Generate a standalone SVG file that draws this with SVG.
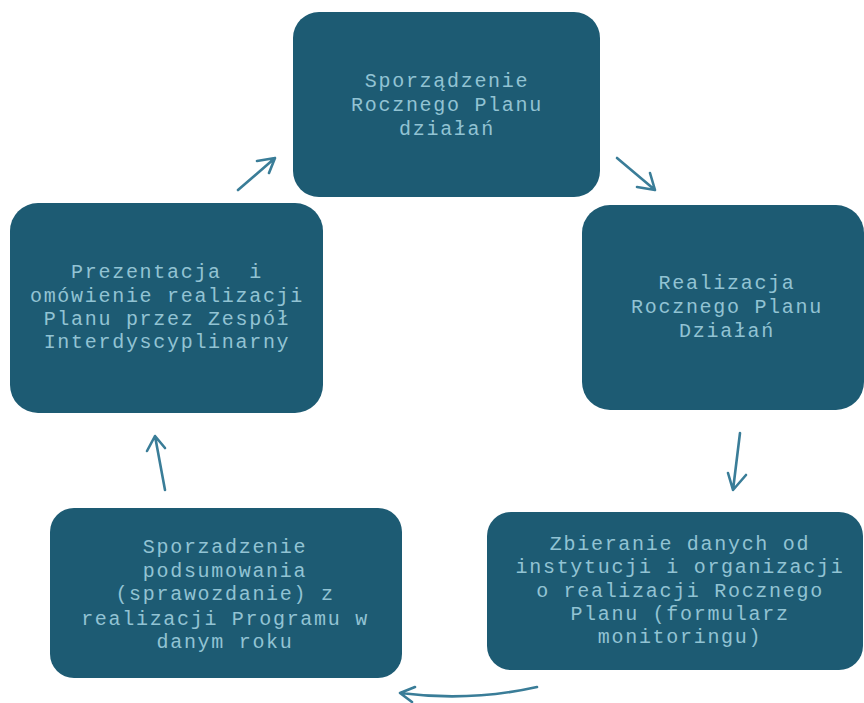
<svg xmlns="http://www.w3.org/2000/svg" width="864" height="703" viewBox="0 0 864 703">
<defs>
<style>
.box{fill:#1d5b73;}
.t{font-family:"Liberation Mono","Courier New",monospace;font-size:20px;letter-spacing:1.7px;fill:#92c3d3;text-anchor:middle;}
.c{fill:none;stroke:#3a7d98;stroke-width:2.6;stroke-linecap:round;stroke-linejoin:round;}
</style>
</defs>
<rect width="864" height="703" fill="#ffffff"/>
<g id="node-plan">
<rect class="box" x="293" y="12" width="307" height="185" rx="26"/>
<text class="t"><tspan x="447" y="87">Sporządzenie</tspan><tspan x="447" y="111">Rocznego Planu</tspan><tspan x="447" y="135">działań</tspan></text>
</g>
<g id="node-realizacja">
<rect class="box" x="582" y="205" width="282" height="205" rx="28"/>
<text class="t"><tspan x="727" y="289">Realizacja</tspan><tspan x="727" y="313">Rocznego Planu</tspan><tspan x="727" y="337">Działań</tspan></text>
</g>
<g id="node-zbieranie">
<rect class="box" x="487" y="512" width="376" height="158" rx="24"/>
<text class="t"><tspan x="680" y="550">Zbieranie danych od</tspan><tspan x="680" y="573">instytucji i organizacji</tspan><tspan x="680" y="597">o realizacji Rocznego</tspan><tspan x="680" y="620">Planu (formularz</tspan><tspan x="680" y="643">monitoringu)</tspan></text>
</g>
<g id="node-sprawozdanie">
<rect class="box" x="50" y="508" width="352" height="170" rx="24"/>
<text class="t"><tspan x="225" y="553">Sporzadzenie</tspan><tspan x="225" y="577">podsumowania</tspan><tspan x="225" y="600">(sprawozdanie) z</tspan><tspan x="225" y="625">realizacji Programu w</tspan><tspan x="225" y="648">danym roku</tspan></text>
</g>
<g id="node-prezentacja">
<rect class="box" x="10" y="203" width="313" height="210" rx="28"/>
<text class="t" xml:space="preserve"><tspan x="167" y="278">Prezentacja  i</tspan><tspan x="167" y="302">omówienie realizacji</tspan><tspan x="167" y="325">Planu przez Zespół</tspan><tspan x="167" y="348">Interdyscyplinarny</tspan></text>
</g>
<g id="connectors">
<path class="c" d="M617 158 L655 190 M637 187 L655 190 L650 173"/>
<path class="c" d="M740 433 L733 490 M728 473 L733 490 L746 475"/>
<path class="c" d="M537 687 Q470 702 400 693 M415 687 L400 693 L412 702"/>
<path class="c" d="M165 490 L155 436 M147 451 L155 436 L165 448"/>
<path class="c" d="M238 190 L275 158 M257 161 L275 158 L269 173"/>
</g>
</svg>
